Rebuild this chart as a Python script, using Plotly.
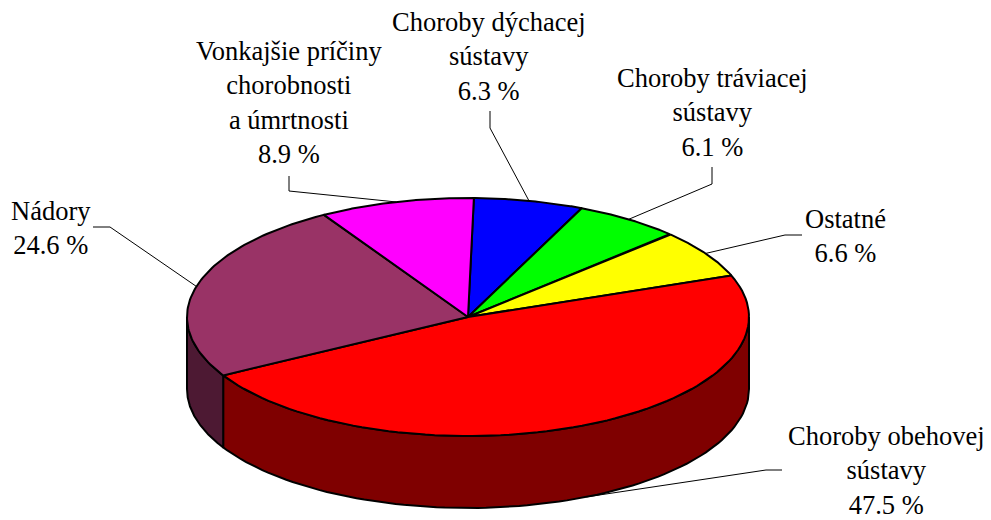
import numpy as np
import plotly.graph_objects as go

# Data, clockwise from the top of the pie
categories = ["Choroby dýchacej<br>sústavy", "Choroby tráviacej<br>sústavy", "Ostatné",
              "Choroby obehovej<br>sústavy", "Nádory",
              "Vonkajšie príčiny<br>chorobnosti<br>a úmrtnosti"]
values = [6.3, 6.1, 6.6, 47.5, 24.6, 8.9]

# Styles
top_colors = ["#0000FF", "#00FF00", "#FFFF00", "#FF0000", "#993366", "#FF00FF"]
side_colors = ["#00007F", "#007F00", "#7F7F00", "#7F0000", "#4D1933", "#7F007F"]

# Pie geometry in page pixels
W, H = 991, 520
CX, CY, RX, RY, DEPTH = 468, 317, 281, 119, 72
START_ANGLE = 1.2

# Label placement: text centre (x, y), then the leader-line elbow, from the text side
label_pos = [(489, 56), (712, 112), (845, 236), (886, 470), (51, 228), (289, 102)]
elbows = [[(490, 111), (490, 128)], [(712, 167), (712, 184)], [(802, 235), (785, 235)],
          [(782, 470), (766, 470)], [(93, 227), (110, 227)], [(289, 176), (289, 191)]]


def rim(a0, a1, n=90):
    t = np.radians(np.linspace(a0, a1, n))
    return CX + RX * np.sin(t), CY - RY * np.cos(t)


fig = go.Figure()
edges = START_ANGLE + np.concatenate([[0], np.cumsum(values)]) * 360 / sum(values)

# Leader lines go first, so the pie covers their ends
for i, pts in enumerate(elbows):
    mid = (edges[i] + edges[i + 1]) / 2
    mx, my = rim(mid, mid, 1)
    drop = DEPTH if 90 < mid < 270 else 0
    fig.add_trace(go.Scatter(
        x=[p[0] for p in pts] + [mx[0]], y=[p[1] for p in pts] + [my[0] + drop],
        mode="lines", line=dict(color="#000000", width=1), hoverinfo="skip"))

# Visible side wall: the front half of the rim
for i in range(len(values)):
    a0, a1 = max(edges[i], 90), min(edges[i + 1], 270)
    if a1 <= a0:
        continue
    x, y = rim(a0, a1)
    fig.add_trace(go.Scatter(
        x=np.concatenate([x, x[::-1], x[:1]]),
        y=np.concatenate([y, y[::-1] + DEPTH, y[:1]]),
        mode="lines", fill="toself", fillcolor=side_colors[i],
        line=dict(color="#000000", width=2), hoverinfo="skip"))

# Top face
for i in range(len(values)):
    x, y = rim(edges[i], edges[i + 1])
    fig.add_trace(go.Scatter(
        x=np.concatenate([[CX], x, [CX]]), y=np.concatenate([[CY], y, [CY]]),
        mode="lines", fill="toself", fillcolor=top_colors[i],
        line=dict(color="#000000", width=2), hoverinfo="skip"))

for cat, val, (lx, ly) in zip(categories, values, label_pos):
    fig.add_annotation(x=lx, y=ly, text=f"{cat}<br>{val} %", showarrow=False,
                       xanchor="center", yanchor="middle", align="center",
                       font=dict(family="Liberation Serif", size=26.5, color="#000000"))

fig.update_layout(
    width=W, height=H, margin=dict(l=0, r=0, t=0, b=0), showlegend=False,
    paper_bgcolor="#FFFFFF", plot_bgcolor="#FFFFFF",
    xaxis=dict(range=[0, W], visible=False, fixedrange=True),
    yaxis=dict(range=[H, 0], visible=False, fixedrange=True),
)
fig.write_html("out.html", config={"displayModeBar": False},
               post_script="document.body.style.margin='0';document.body.style.overflow='hidden';")
